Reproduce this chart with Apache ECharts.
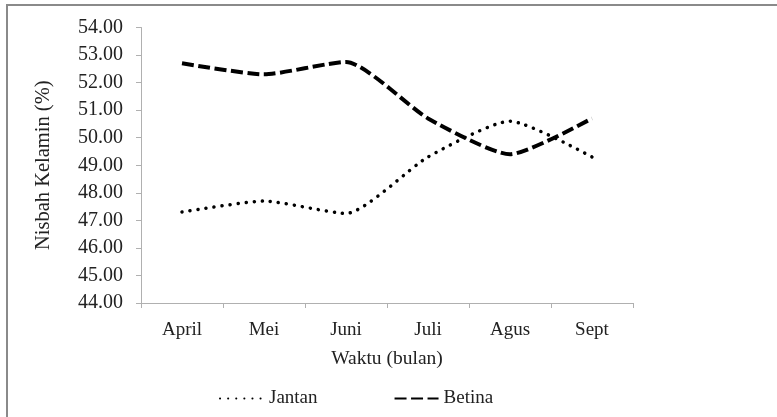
<!doctype html>
<html>
<head>
<meta charset="utf-8">
<title>Nisbah Kelamin</title>
<style>
  html, body { margin: 0; padding: 0; background: #fff; }
  #chart { width: 777px; height: 417px; }
</style>
</head>
<body>
<div id="chart"></div>
<script src="https://cdn.jsdelivr.net/npm/echarts@6/dist/echarts.min.js"></script>
<script>
// data
var months = ['April', 'Mei', 'Juni', 'Juli', 'Agus', 'Sept'];
var jantan = [47.3, 47.7, 47.25, 49.3, 50.6, 49.3];
var betina = [52.7, 52.3, 52.75, 50.7, 49.4, 50.7];
var yMin = 44, yMax = 54, yStep = 1;

var font = 'Liberation Serif, Times New Roman, serif';
var chart = echarts.init(document.getElementById('chart'));

chart.setOption({
  animation: false,
  textStyle: { fontFamily: font },
  graphic: [{
    type: 'rect',
    shape: { x: 7, y: 5, width: 820, height: 460 },
    style: { fill: 'none', stroke: '#8a8a8a', lineWidth: 2 }
  }],
  grid: { left: 141, right: 144, top: 27.5, bottom: 114 },
  legend: {
    bottom: 4,
    left: 214,
    itemWidth: 44,
    itemHeight: 12,
    itemGap: 76,
    itemStyle: { opacity: 0 },
    textStyle: { fontFamily: font, fontSize: 19, color: '#222' },
    data: ['Jantan', 'Betina']
  },
  xAxis: {
    type: 'category',
    data: months,
    boundaryGap: true,
    name: 'Waktu (bulan)',
    nameLocation: 'middle',
    nameGap: 46,
    nameTextStyle: { fontFamily: font, fontSize: 19.5, color: '#222' },
    axisLine: { lineStyle: { color: '#b0b0b0', width: 1 } },
    axisTick: { show: true, length: 5, lineStyle: { color: '#b0b0b0' } },
    axisLabel: { fontFamily: font, fontSize: 19, color: '#222', margin: 18 }
  },
  yAxis: {
    type: 'value',
    min: yMin,
    max: yMax,
    interval: yStep,
    name: 'Nisbah Kelamin (%)',
    nameLocation: 'middle',
    nameGap: 87,
    nameTextStyle: { fontFamily: font, fontSize: 20.5, color: '#222' },
    splitLine: { show: false },
    axisLine: { show: true, lineStyle: { color: '#b0b0b0', width: 1 } },
    axisTick: { show: true, length: 5, lineStyle: { color: '#b0b0b0' } },
    axisLabel: {
      fontFamily: font, fontSize: 20, color: '#222', margin: 18,
      formatter: function (v) { return v.toFixed(2); }
    }
  },
  series: [{
    name: 'Jantan',
    type: 'line',
    data: jantan,
    smooth: 0.2,
    symbol: 'none',
    itemStyle: { color: '#000' },
    lineStyle: { color: '#000', width: 3.5, type: [0.1, 8], cap: 'round' }
  }, {
    name: 'Betina',
    type: 'line',
    data: betina,
    smooth: 0.2,
    symbol: 'none',
    itemStyle: { color: '#000' },
    lineStyle: { color: '#000', width: 4, type: [12, 4.5] }
  }]
});
</script>
</body>
</html>
